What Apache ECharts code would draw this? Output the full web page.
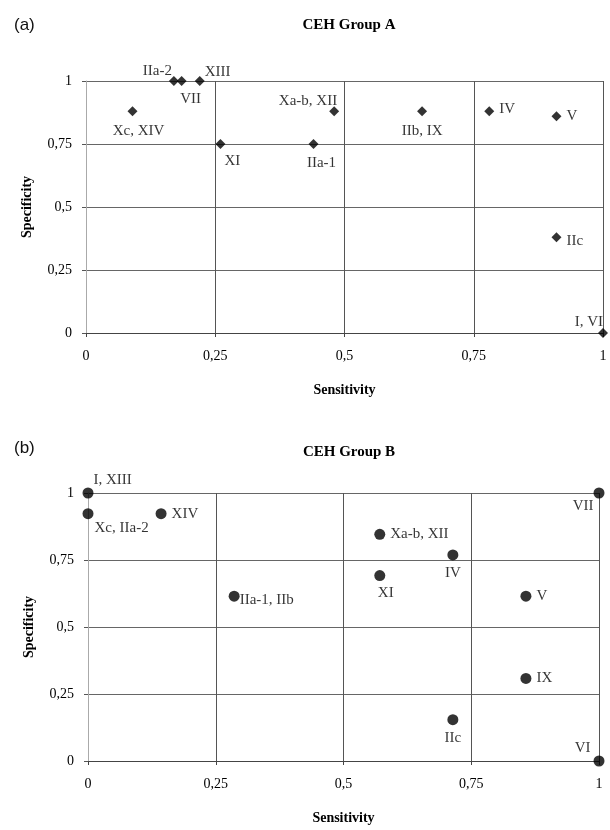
<!DOCTYPE html>
<html>
<head>
<meta charset="utf-8">
<script src="https://cdn.jsdelivr.net/npm/echarts@6/dist/echarts.min.js"></script>
<style>
  html, body { margin: 0; padding: 0; background: #fff; }
  #chart { width: 610px; height: 830px; }
</style>
</head>
<body>
<div id="chart"></div>
<script>
// Axis tick labels (decimal comma), for values 0, 0.25, 0.5, 0.75, 1
const tickLabels = ['0', '0,25', '0,5', '0,75', '1'];

// CEH Group A
const namesA = ['IIa-2', 'VII', 'XIII', 'Xc, XIV', 'XI', 'IIa-1', 'Xa-b, XII', 'IIb, IX', 'IV', 'V', 'IIc', 'I, VI'];
const sensA  = [0.17, 0.185, 0.22, 0.09, 0.26, 0.44, 0.48, 0.65, 0.78, 0.91, 0.91, 1];
const specA  = [1, 1, 1, 0.88, 0.75, 0.75, 0.88, 0.88, 0.88, 0.86, 0.38, 0];

// CEH Group B
const namesB = ['I, XIII', 'Xc, IIa-2', 'XIV', 'Xa-b, XII', 'IV', 'XI', 'IIa-1, IIb', 'V', 'IX', 'IIc', 'VII', 'VI'];
const sensB  = [0, 0, 0.143, 0.571, 0.714, 0.571, 0.286, 0.857, 0.857, 0.714, 1, 1];
const specB  = [1, 0.923, 0.923, 0.846, 0.769, 0.692, 0.615, 0.615, 0.308, 0.154, 1, 0];

// Where each point's name sits relative to its marker
const labelPlaceA = {
  'IIa-2':     { position: 'left',   offset: [8, -10] },
  'VII':       { position: 'bottom', offset: [9, 1] },
  'XIII':      { position: 'right',  offset: [-5, -9] },
  'Xc, XIV':   { position: 'bottom', offset: [6, 2] },
  'XI':        { position: 'bottom', offset: [12, 0] },
  'IIa-1':     { position: 'bottom', offset: [8, 2] },
  'Xa-b, XII': { position: 'left',   offset: [13, -10] },
  'IIb, IX':   { position: 'bottom', offset: [0, 2] },
  'IV':        { position: 'right',  offset: [0, -2] },
  'V':         { position: 'right',  offset: [0, 0] },
  'IIc':       { position: 'right',  offset: [0, 4] },
  'I, VI':     { position: 'left',   offset: [10, -11] }
};
const labelPlaceB = {
  'I, XIII':    { position: 'right',  offset: [-5, -13] },
  'Xc, IIa-2':  { position: 'right',  offset: [-4, 14] },
  'XIV':        { position: 'right',  offset: [0, 0] },
  'Xa-b, XII':  { position: 'right',  offset: [0, 0] },
  'IV':         { position: 'bottom', offset: [0, 0] },
  'XI':         { position: 'bottom', offset: [6, 0] },
  'IIa-1, IIb': { position: 'right',  offset: [-5, 4] },
  'V':          { position: 'right',  offset: [0, 0] },
  'IX':         { position: 'right',  offset: [0, 0] },
  'IIc':        { position: 'bottom', offset: [0, 0] },
  'VII':        { position: 'left',   offset: [5, 13] },
  'VI':         { position: 'left',   offset: [2, -13] }
};

const SERIF = '"Liberation Serif", "DejaVu Serif", serif';
const SANS = '"Liberation Sans", Arial, sans-serif';
const fmtTick = v => tickLabels[Math.round(v * 4)];

function buildPoints(names, xs, ys, place) {
  return names.map((n, i) => ({
    name: n,
    value: [xs[i], ys[i]],
    label: {
      show: true,
      formatter: n,
      position: place[n].position,
      offset: place[n].offset
    }
  }));
}

function xAxisFor(gridIndex) {
  return {
    type: 'value', gridIndex, min: 0, max: 1, interval: 0.25,
    name: 'Sensitivity', nameLocation: 'middle', nameGap: 50,
    nameTextStyle: { fontFamily: SERIF, fontWeight: 'bold', fontSize: 14, color: '#000' },
    axisLine: { show: true, lineStyle: { color: '#444', width: 1 } },
    axisTick: { show: true, length: 4, lineStyle: { color: '#444' } },
    axisLabel: { formatter: fmtTick, fontFamily: SERIF, fontSize: 14, color: '#000', margin: 16 },
    splitLine: { show: true, showMinLine: false, lineStyle: { color: '#555', width: 1 } }
  };
}
function yAxisFor(gridIndex) {
  return {
    type: 'value', gridIndex, min: 0, max: 1, interval: 0.25,
    name: 'Specificity', nameLocation: 'middle', nameGap: 52, nameRotate: 90,
    nameTextStyle: { fontFamily: SERIF, fontWeight: 'bold', fontSize: 14, color: '#000' },
    axisLine: { show: true, lineStyle: { color: '#aaa', width: 1 } },
    axisTick: { show: true, length: 4, lineStyle: { color: '#555' } },
    axisLabel: { formatter: fmtTick, fontFamily: SERIF, fontSize: 14, color: '#000', margin: 14 },
    splitLine: { show: true, lineStyle: { color: '#666', width: 1 } }
  };
}

const labelText = { fontFamily: SERIF, fontSize: 15, color: '#000', distance: 5 };

const chart = echarts.init(document.getElementById('chart'), null, { renderer: 'canvas' });
chart.setOption({
  backgroundColor: '#fff',
  animation: false,
  title: [
    { text: 'CEH Group A', left: 344, top: 13, textAlign: 'center',
      textStyle: { fontFamily: SERIF, fontWeight: 'bold', fontSize: 15, color: '#000' } },
    { text: 'CEH Group B', left: 344, top: 440, textAlign: 'center',
      textStyle: { fontFamily: SERIF, fontWeight: 'bold', fontSize: 15, color: '#000' } },
    { text: '(a)', left: 9, top: 12,
      textStyle: { fontFamily: SANS, fontWeight: 'normal', fontSize: 17, color: '#111' } },
    { text: '(b)', left: 9, top: 435,
      textStyle: { fontFamily: SANS, fontWeight: 'normal', fontSize: 17, color: '#111' } }
  ],
  grid: [
    { left: 86, right: 7, top: 81, height: 252 },
    { left: 88, right: 11, top: 493, height: 268 }
  ],
  xAxis: [xAxisFor(0), xAxisFor(1)],
  yAxis: [yAxisFor(0), yAxisFor(1)],
  series: [
    {
      type: 'scatter', xAxisIndex: 0, yAxisIndex: 0,
      symbol: 'diamond', symbolSize: 10,
      itemStyle: { color: '#000' },
      label: labelText,
      data: buildPoints(namesA, sensA, specA, labelPlaceA),
      z: 5
    },
    {
      type: 'scatter', xAxisIndex: 1, yAxisIndex: 1,
      symbol: 'circle', symbolSize: 11,
      itemStyle: { color: '#000' },
      label: labelText,
      data: buildPoints(namesB, sensB, specB, labelPlaceB),
      z: 5
    }
  ]
});
</script>
</body>
</html>
